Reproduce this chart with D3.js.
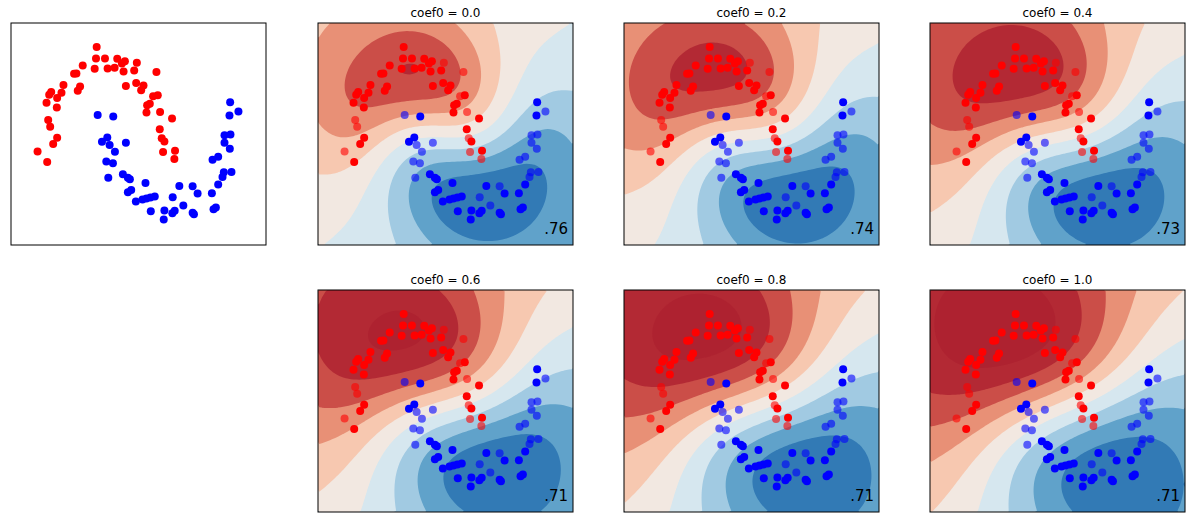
<!DOCTYPE html>
<html><head><meta charset="utf-8">
<script src="https://cdn.jsdelivr.net/npm/d3@7"></script>
<style>body{margin:0;background:#fff;font-family:"DejaVu Sans",sans-serif}</style>
</head><body>
<svg id="chart" width="1196" height="523"></svg>
<script>
// --- Daten (Koordinaten im Datenraum 0..768 x 0..669, y nach unten) ---
const redPoints = [[258,72],[256,107],[283,107],[320,108],[343,115],[334,122],[379,120],[216,128],[197,152],[190,153],[252,138],[291,137],[312,135],[339,146],[371,143],[438,148],[158,187],[346,190],[377,181],[399,188],[392,203],[208,191],[201,204],[121,208],[115,216],[152,210],[139,226],[107,240],[138,255],[428,221],[442,218],[418,243],[410,248],[408,270],[449,268],[485,288],[112,292],[118,313],[448,320],[139,346],[454,347],[462,357],[127,365],[80,387],[458,389],[494,385],[109,419],[492,410]];
const bluePoints = [[261,277],[308,282],[660,239],[685,267],[658,279],[290,345],[274,358],[297,368],[346,361],[313,388],[643,338],[661,336],[643,361],[659,379],[287,417],[307,423],[607,412],[624,403],[641,450],[664,449],[637,464],[293,466],[337,456],[352,466],[358,471],[405,482],[507,491],[547,492],[624,487],[562,514],[605,513],[362,503],[352,510],[487,525],[433,523],[420,526],[408,529],[396,532],[376,538],[519,550],[421,567],[462,565],[493,566],[486,573],[547,572],[551,576],[610,561],[617,556],[460,592]];
// Testpunkte (halbtransparent in den Modell-Panels)
const redTest = [6,15,29,36,37,43,44,47,34,40];
const blueTest = [0,3,7,8,9,10,11,12,13,14,15,16,17,18,19,20,21,27,33,39];
const coefLabels = ["0.0","0.2","0.4","0.6","0.8","1.0"];
const scores = [".76",".74",".73",".71",".71",".71"];
const kernelWidth = [120,130,140,150,160,170]; // Annahme für die Glättung je Panel
const trendWeight = [0.5,0.6,0.7,0.8,0.85,0.9];
const biasShift = [0.0,0.08,0.15,0.2,0.25,0.3];

const svg = d3.select('#chart');
const PW = 255, PH = 222;
const colX = [318, 624, 930], rowY = [23, 290];

const x = d3.scaleLinear().domain([0, 768]).range([0, PW]);
const y = d3.scaleLinear().domain([0, 669]).range([0, PH]);

function drawPoints(g, faded) {
  const all = redPoints.map((p, i) => ({p, c: 'red', a: faded && redTest.includes(i) ? 0.6 : 1}))
    .concat(bluePoints.map((p, i) => ({p, c: 'blue', a: faded && blueTest.includes(i) ? 0.6 : 1})));
  g.selectAll('circle.pt').data(all).join('circle')
    .attr('class', 'pt')
    .attr('cx', d => x(d.p[0])).attr('cy', d => y(d.p[1]))
    .attr('r', 4).attr('fill', d => d.c).attr('fill-opacity', d => d.a);
}

function frame(g) {
  g.append('rect').attr('width', PW).attr('height', PH)
    .attr('fill', 'none').attr('stroke', '#000').attr('stroke-width', 1);
}

// --- Erstes Panel: nur Daten ---
const g0 = svg.append('g').attr('transform', 'translate(11,23)');
drawPoints(g0, false);
frame(g0);

// --- Modell-Panels ---
const NX = 96, NY = 84;
coefLabels.forEach((lab, k) => {
  const gx = colX[k % 3], gy = rowY[Math.floor(k / 3)];
  const g = svg.append('g').attr('transform', `translate(${gx},${gy})`);
  g.append('clipPath').attr('id', 'clip' + k).append('rect').attr('width', PW).attr('height', PH);

  const s2 = 2 * kernelWidth[k] * kernelWidth[k];
  const vals = new Array(NX * NY);
  for (let j = 0; j < NY; j++) for (let i = 0; i < NX; i++) {
    const px = (i + 0.5) / NX * 768, py = (j + 0.5) / NY * 669;
    let f = 0;
    redPoints.forEach(p => { f += Math.exp(-((px - p[0]) ** 2 + (py - p[1]) ** 2) / s2); });
    bluePoints.forEach(p => { f -= Math.exp(-((px - p[0]) ** 2 + (py - p[1]) ** 2) / s2); });
    vals[j * NX + i] = f;
  }
  const m = d3.max(vals, Math.abs);
  const norm = vals.map((v, idx) => {
    const i = idx % NX, j = Math.floor(idx / NX);
    const tr = (0.5 - i / NX) + (0.5 - j / NY);
    return v / m + trendWeight[k] * tr + biasShift[k];
  });
  const thresholds = d3.range(-1.8, 1.81, 0.3);
  const cont = d3.contours().size([NX, NY]).thresholds(thresholds)(norm);
  const path = d3.geoPath(d3.geoTransform({
    point(px, py) { this.stream.point(px / NX * PW, py / NY * PH); }
  }));
  // Farbbereich begrenzt, damit die dunkelsten Stufen wie im Original gedämpft bleiben
  const color = v => d3.interpolateRdBu(Math.max(0.1, Math.min(0.88, 0.5 - v / 3)));
  g.append('g').attr('clip-path', `url(#clip${k})`)
    .selectAll('path').data(cont).join('path')
    .attr('d', path).attr('fill', d => color(d.value + 0.15)).attr('fill-opacity', 0.8);

  drawPoints(g, true);
  frame(g);
  g.append('text').attr('x', PW / 2).attr('y', -6).attr('text-anchor', 'middle')
    .attr('font-size', 12).text('coef0 = ' + lab);
  g.append('text').attr('x', PW - 5).attr('y', PH - 11).attr('text-anchor', 'end')
    .attr('font-size', 15).text(scores[k]);
});
</script>
</body></html>
